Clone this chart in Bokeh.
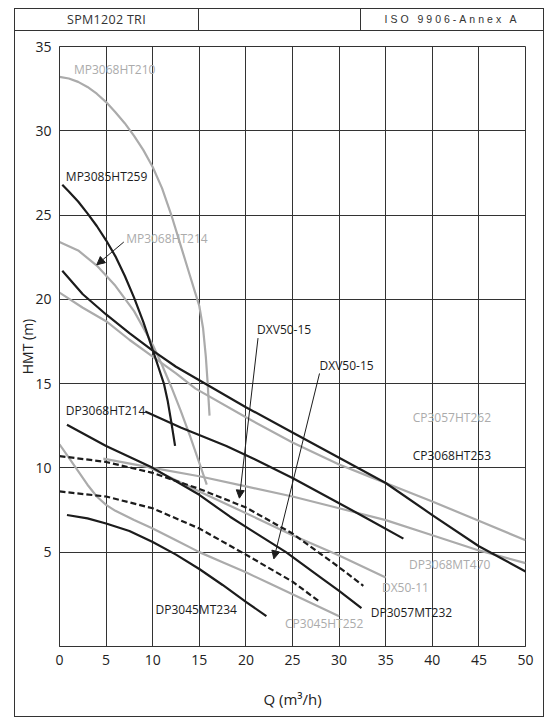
from bokeh.plotting import figure
from bokeh.models import FixedTicker, Arrow, NormalHead, Div, ColumnDataSource, Range1d
from bokeh.layouts import column
from bokeh.embed import file_html
from bokeh.resources import INLINE
from bokeh.core.properties import value

# ---------------- data ----------------
hdr_left = "SPM1202 TRI"
hdr_right = "ISO 9906-Annex A"
x_title = "Q (m³/h)"
y_title = "HMT (m)"
x_ticks = [0, 5, 10, 15, 20, 25, 30, 35, 40, 45, 50]
y_ticks = [5, 10, 15, 20, 25, 30, 35]

# grey curves
mp210_q = [0, 1, 2, 3, 4, 5, 6, 7, 8, 9, 10, 11, 12, 13, 14, 14.5, 15, 15.4, 15.7, 15.9, 16.0, 16.1]
mp210_h = [33.2, 33.1, 32.9, 32.6, 32.2, 31.7, 31.1, 30.45, 29.7, 28.85, 27.85, 26.6, 25.0, 23.2,
           21.4, 20.5, 19.6, 18.3, 16.6, 15.0, 14.0, 13.1]
mp214_q = [0, 2, 4, 6, 8, 10, 11, 12, 13, 14, 15, 15.8]
mp214_h = [23.4, 22.9, 22.0, 20.8, 19.3, 17.3, 16.1, 14.8, 13.4, 11.9, 10.3, 9.0]
cp262_q = [0, 2.5, 5, 7.5, 10, 12.5, 14.6, 20, 25, 30, 33.4, 35, 40, 44.4, 50]
cp262_h = [20.4, 19.5, 18.7, 17.6, 16.6, 15.6, 14.7, 13.0, 11.5, 10.2, 9.45, 9.1, 8.0, 7.0, 5.7]
dp470_q = [4.7, 10, 15, 20, 25, 30, 35, 40, 45, 50]
dp470_h = [10.55, 10.0, 9.5, 8.9, 8.3, 7.6, 6.9, 6.0, 5.1, 4.35]
dx11_q = [9, 15, 21.2, 25, 30, 35]
dx11_h = [10.2, 8.6, 7.0, 6.0, 4.8, 3.5]
cp252_q = [0, 1, 2, 3, 4, 5, 6, 8, 10, 12.5, 15, 17.5, 20, 22.5, 25, 27.5, 30]
cp252_h = [11.4, 10.6, 9.8, 9.0, 8.3, 7.8, 7.45, 6.9, 6.4, 5.7, 5.0, 4.4, 3.8, 3.15, 2.5, 1.85, 1.2]

# black curves
mp259_q = [0.3, 1, 2, 3, 4, 5, 6, 7, 8, 9, 10, 10.6, 11.2, 11.6, 12.0, 12.2, 12.4]
mp259_h = [26.8, 26.4, 25.8, 25.1, 24.35, 23.5, 22.55, 21.4, 20.1, 18.65, 17.0, 16.0, 15.0,
           14.0, 12.7, 12.0, 11.3]
cp253_q = [0.3, 2.5, 5, 7.5, 10, 12.5, 15, 20, 25, 30, 35, 40, 45, 50]
cp253_h = [21.7, 20.3, 19.1, 18.0, 16.95, 16.0, 15.2, 13.6, 12.1, 10.6, 9.1, 7.2, 5.35, 3.85]
dp214_q = [9.2, 13, 17.9, 21, 25, 30, 33, 36.9]
dp214_h = [13.35, 12.4, 11.3, 10.5, 9.4, 7.9, 7.0, 5.8]
dp232_q = [0.8, 5, 10, 15, 18.3, 20, 24.3, 28, 30, 32.4]
dp232_h = [12.56, 11.3, 10.0, 8.4, 7.1, 6.5, 5.0, 3.5, 2.7, 1.67]
dp234_q = [0.8, 3, 5, 7.5, 10, 12.5, 15, 17.5, 20, 22.2]
dp234_h = [7.2, 7.0, 6.7, 6.25, 5.6, 4.85, 4.0, 3.05, 2.05, 1.2]

# dashed curves (DXV50-15)
dxv1_q = [0, 5, 10, 15, 20, 25, 28, 30, 32.6]
dxv1_h = [10.7, 10.35, 9.7, 8.75, 7.65, 6.1, 4.9, 4.1, 3.0]
dxv2_q = [0, 5, 10, 15, 20, 25, 27.8]
dxv2_h = [8.6, 8.3, 7.6, 6.4, 4.85, 3.25, 2.1]

# arrows (start -> end)
arrow_x0 = [6.9, 21.3, 27.9]
arrow_y0 = [23.4, 17.7, 15.6]
arrow_x1 = [4.0, 19.3, 23.0]
arrow_y1 = [22.05, 8.2, 4.6]

# curve labels
lab_text = ["MP3068HT210", "MP3085HT259", "MP3068HT214", "DXV50-15", "DXV50-15",
            "DP3068HT214", "CP3057HT262", "CP3068HT253", "DP3068MT470", "DX50-11",
            "DP3057MT232", "DP3045MT234", "CP3045HT252"]
lab_x = [1.55, 0.68, 7.15, 21.2, 27.9, 0.68, 37.9, 37.9, 37.5, 34.6, 33.4, 10.3, 24.2]
lab_y = [33.65, 27.3, 23.6, 18.2, 16.05, 13.4, 13.0, 10.74, 4.26, 2.92, 1.4, 1.58, 0.77]
lab_grey = [True, False, True, False, False, False, True, False, True, True, False, False, True]

# ---------------- styles ----------------
BLACK = "#1c1c1c"
GREY = "#ababab"
GRID = "#333333"
FONT = "Open Sans"

p = figure(width=528, height=685, output_backend="svg", toolbar_location=None,
           x_range=Range1d(0, 50), y_range=Range1d(-0.6, 35),
           min_border_left=44, min_border_right=18, min_border_top=15, min_border_bottom=70)
p.background_fill_color = "white"
p.border_fill_color = "white"
p.outline_line_color = GRID
p.outline_line_width = 1

p.xaxis.ticker = FixedTicker(ticks=x_ticks)
p.yaxis.ticker = FixedTicker(ticks=y_ticks)
p.xgrid.ticker = FixedTicker(ticks=x_ticks)
p.ygrid.ticker = FixedTicker(ticks=y_ticks)
p.grid.grid_line_color = GRID
p.grid.grid_line_width = 1
p.axis.axis_line_color = GRID
p.axis.axis_line_width = 1
p.axis.major_tick_line_color = None
p.axis.minor_tick_line_color = None
p.axis.major_tick_out = 0
p.axis.major_tick_in = 0
p.axis.major_label_text_font = FONT
p.axis.major_label_text_font_size = "14px"
p.axis.major_label_text_color = "#222"
p.axis.major_label_standoff = 8
p.axis.axis_label_text_font = FONT
p.axis.axis_label_text_font_style = "normal"
p.axis.axis_label_text_color = "#222"
p.xaxis.axis_label = x_title
p.yaxis.axis_label = y_title
p.xaxis.axis_label_text_font_size = "15px"
p.yaxis.axis_label_text_font_size = "14px"
p.xaxis.axis_label_standoff = 21
p.yaxis.axis_label_standoff = -5

for q, h in [(mp210_q, mp210_h), (mp214_q, mp214_h), (cp262_q, cp262_h),
             (dp470_q, dp470_h), (dx11_q, dx11_h), (cp252_q, cp252_h)]:
    p.line(q, h, line_color=GREY, line_width=2.2, line_join="round")

for q, h in [(mp259_q, mp259_h), (cp253_q, cp253_h), (dp214_q, dp214_h),
             (dp232_q, dp232_h), (dp234_q, dp234_h)]:
    p.line(q, h, line_color=BLACK, line_width=2.2, line_join="round")

for q, h in [(dxv1_q, dxv1_h), (dxv2_q, dxv2_h)]:
    p.line(q, h, line_color=BLACK, line_width=2.2, line_dash="6 3")

for i in range(len(arrow_x0)):
    p.add_layout(Arrow(end=NormalHead(size=8, fill_color=BLACK, line_color=BLACK, line_width=1),
                       x_start=arrow_x0[i], y_start=arrow_y0[i],
                       x_end=arrow_x1[i], y_end=arrow_y1[i],
                       line_color=BLACK, line_width=1))

src = ColumnDataSource(dict(x=lab_x, y=lab_y, text=lab_text,
                            color=[GREY if g else BLACK for g in lab_grey]))
p.text(x="x", y="y", text="text", source=src, text_color="color",
       text_font=value(FONT), text_font_size="12px",
       text_baseline="middle", text_align="left")

header_html = (
    '<div style="display:flex;width:528px;height:22px;border-bottom:1.3px solid #333;'
    'box-sizing:border-box;color:#333;">'
    '<div style="width:184px;border-right:1.3px solid #333;text-align:center;line-height:21px;'
    f'font-family:\'Open Sans\';font-size:12.5px;letter-spacing:0.3px;">{hdr_left}</div>'
    '<div style="width:162px;border-right:1.3px solid #333;"></div>'
    '<div style="flex:1;text-align:center;line-height:21px;'
    f'font-family:\'Liberation Sans\';font-size:10.5px;letter-spacing:3px;">{hdr_right}</div>'
    '</div>')
header = Div(text=header_html, width=528, height=22, margin=0)

layout = column(header, p, margin=(8, 0, 0, 14), spacing=0,
                styles={"border": "1.3px solid #333"})

open("out.html", "w").write(file_html(layout, INLINE))
